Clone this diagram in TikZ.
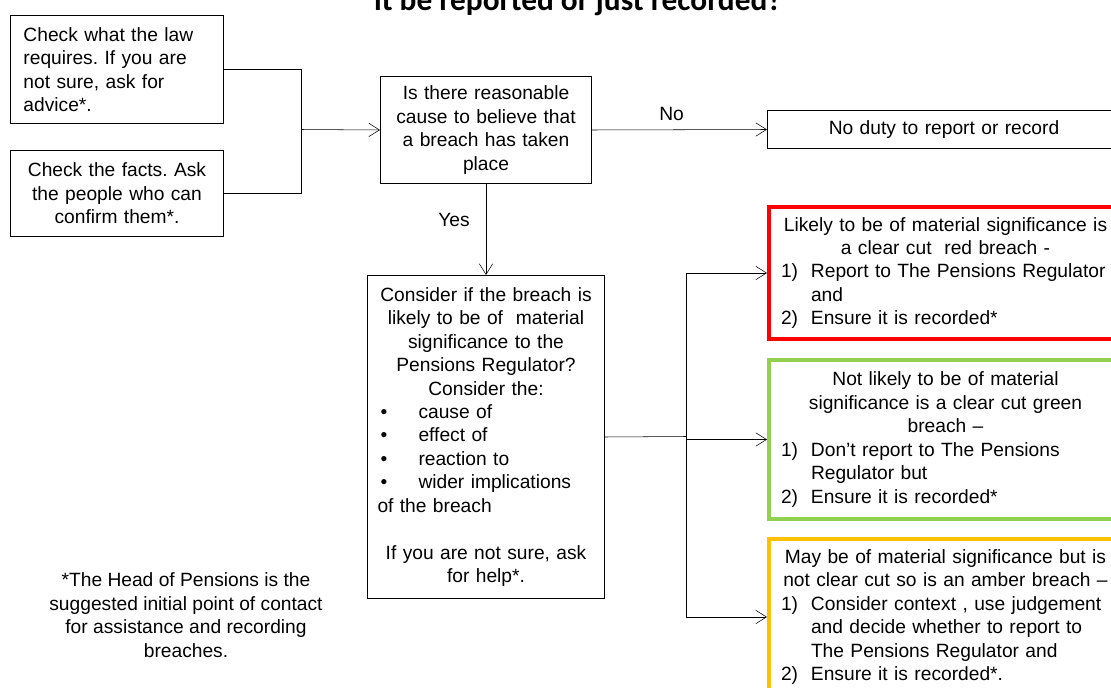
\documentclass[tikz,border=0pt]{standalone}
\usepackage{fontspec}
\setmainfont{Liberation Sans}
\newfontfamily\titlefont{Carlito}
\usetikzlibrary{arrows.meta}
\frenchspacing
\definecolor{flagred}{HTML}{FF0000}
\definecolor{flaggreen}{HTML}{92D050}
\definecolor{flagamber}{HTML}{FFC000}
\newcommand\bulline[1]{\makebox[\hsize][l]{\hspace*{2.25pt}\makebox[28.5pt][l]{\textbullet}#1}}
\newcommand\listline[2]{\makebox[\hsize][l]{\hspace*{1.5pt}\makebox[22.5pt][l]{#1}#2}}

\begin{document}
\begin{tikzpicture}[x=0.75pt,y=-0.75pt,font=\fontsize{14.4}{17.6}\selectfont,
 >={Straight Barb[length=8pt,width=10pt]},
 box/.style={draw,line width=0.75pt,anchor=north west,inner sep=0pt,inner xsep=7.5pt,align=center},
 flag/.style={box,line width=3pt,text width=249.75pt}]
 \useasboundingbox (0,0) rectangle (1111,688);
 \node[anchor=base,font=\titlefont\bfseries\fontsize{23.5}{28}\selectfont] (title) at (578,11) {it be reported or just recorded?};
 \node[box,align=left,inner xsep=9.75pt,text width=140.25pt,minimum height=81pt] (law) at (10,15)
   {Check what the law\\ requires. If you are\\ not sure, ask for\\ advice*.};
 \node[box,text width=144.75pt,minimum height=64.5pt] (facts) at (10,150)
   {Check the facts. Ask\\ the people who can\\ confirm them*.};
 \node[box,text width=143.25pt,minimum height=80.25pt] (cause) at (380,76)
   {Is there reasonable\\ cause to believe that\\ a breach has taken\\ place};
 \node[box,text width=249.75pt,minimum height=28.5pt] (noduty) at (767,110)
   {No duty to report or record};
 \node[box,text width=162.75pt,minimum height=242.25pt] (consider) at (367,275)
   {Consider if the breach is\\ likely to be of\ \ material\\ significance to the\\ Pensions Regulator?\\ Consider the:\\
    \bulline{cause of}\\ \bulline{effect of}\\ \bulline{reaction to}\\ \bulline{wider implications}\\
    \makebox[\hsize][l]{of the breach}\\ \mbox{}\\ If you are not sure, ask\\ for help*.};
 \node[flag,draw=flagred,minimum height=99pt] (red) at (767,205)
   {Likely to be of material significance is\\ a clear cut\ \ red breach -\\
    \listline{1)}{Report to The Pensions Regulator}\\ \listline{}{and}\\ \listline{2)}{Ensure it is recorded*}};
 \node[flag,draw=flaggreen,minimum height=119.25pt] (green) at (767,358)
   {Not likely to be of material\\ significance is a clear cut green\\ breach --\\
    \listline{1)}{Don't report to The Pensions}\\ \listline{}{Regulator but}\\ \listline{2)}{Ensure it is recorded*}};
 \node[flag,draw=flagamber,minimum height=117pt] (amber) at (767,537)
   {May be of material significance but is\\ not clear cut so is an amber breach --\\
    \listline{1)}{Consider context , use judgement}\\ \listline{}{and decide whether to report to}\\
    \listline{}{The Pensions Regulator and}\\ \listline{2)}{Ensure it is recorded*.}};
 \node[align=center] (note) at (186,615)
   {*The Head of Pensions is the\\ suggested initial point of contact\\ for assistance and recording\\ breaches.};
 \coordinate (join) at (301,129.5);
 \coordinate (split) at (686,436.5);
 \draw (law.east) -| (join);
 \draw (facts.east) -| (join);
 \draw[->] (join) -- (cause.west);
 \draw[->] (cause.east) -- node[pos=0.455,above=6.75pt,inner sep=0pt] (no) {No} (noduty.west);
 \draw[->] (cause.south) -- node[pos=0.39,left=12pt,inner sep=0pt] (yes) {Yes} (consider.north);
 \draw (consider.east) -- (split);
 \draw (split |- red.west) -- (split |- amber.west);
 \foreach \k in {red,green,amber} \draw[->] (split |- \k.west) -- (\k.west);
\end{tikzpicture}
\end{document}
